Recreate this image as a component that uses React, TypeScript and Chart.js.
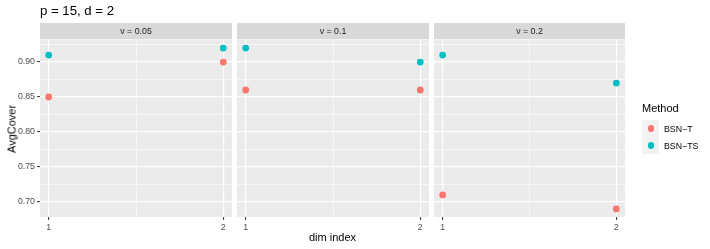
import React, { useEffect, useRef } from "react";
import { Chart, registerables } from "chart.js";

Chart.register(...registerables);

// ---- data ----
const dimIndex = [1, 2];
const nuLabels = ["ν = 0.05", "ν = 0.1", "ν = 0.2"];
const methods = ["BSN−T", "BSN−TS"];
const bsnT = [
  [0.85, 0.9],
  [0.86, 0.86],
  [0.71, 0.69],
];
const bsnTS = [
  [0.91, 0.92],
  [0.92, 0.9],
  [0.91, 0.87],
];
const yMajor = [0.7, 0.75, 0.8, 0.85, 0.9];
const yMinor = [0.725, 0.775, 0.825, 0.875, 0.925];
const xMajor = [1, 2];
const xMinor = [1.5];

// ---- styles ----
const colors = ["#F8766D", "#00BFC4"];
const FONT = "'Liberation Sans', Arial, Helvetica, sans-serif";
const W = 710;
const H = 249;
const panelLeft = [40, 237, 434];
const panelRight = [232, 429, 625];
const panelTop = 40;
const xAxisH = 32;

const allY = [...bsnT.flat(), ...bsnTS.flat()];
const yLo = Math.min(...allY);
const yHi = Math.max(...allY);
const yMin = yLo - 0.05 * (yHi - yLo);
const yMax = yHi + 0.05 * (yHi - yLo);
const xMin = dimIndex[0] - 0.05 * (dimIndex[1] - dimIndex[0]);
const xMax = dimIndex[1] + 0.05 * (dimIndex[1] - dimIndex[0]);

const stripPlugin = {
  id: "strip",
  beforeDraw(chart: any, _args: any, opts: any) {
    const { ctx, chartArea: a } = chart;
    ctx.save();
    ctx.fillStyle = "#EBEBEB";
    ctx.fillRect(a.left, a.top, a.right - a.left, a.bottom - a.top);
    ctx.fillStyle = "#D9D9D9";
    ctx.fillRect(a.left, 23, a.right - a.left, 16.3);
    ctx.fillStyle = "#1A1A1A";
    ctx.font = `8.8px ${FONT}`;
    ctx.textAlign = "center";
    ctx.textBaseline = "middle";
    ctx.fillText(opts.label, (a.left + a.right) / 2, 31.5);
    ctx.restore();
  },
};

function Panel({ idx }: { idx: number }) {
  const ref = useRef<HTMLCanvasElement>(null);
  useEffect(() => {
    const showY = idx === 0;
    const series = [bsnT, bsnTS];
    const xTicks = [...xMajor, ...xMinor].sort((a, b) => a - b);
    const yTicks = [...yMajor, ...yMinor].sort((a, b) => a - b);
    const chart = new Chart(ref.current as HTMLCanvasElement, {
      type: "scatter",
      data: {
        datasets: methods.map((m, s) => ({
          label: m,
          data: dimIndex.map((d, i) => ({ x: d, y: series[s][idx][i] })),
          backgroundColor: colors[s],
          borderWidth: 0,
          pointRadius: 3.4,
          pointHoverRadius: 3.4,
        })),
      },
      options: {
        animation: false,
        responsive: false,
        devicePixelRatio: 1,
        events: [],
        layout: {
          padding: {
            left: showY ? 0 : panelLeft[idx],
            right: W - panelRight[idx],
            top: panelTop,
            bottom: 0,
          },
        },
        plugins: {
          legend: { display: false },
          tooltip: { enabled: false },
          strip: { label: nuLabels[idx] },
        } as any,
        scales: {
          x: {
            type: "linear",
            min: xMin,
            max: xMax,
            afterBuildTicks: (s: any) => {
              s.ticks = xTicks.map((v) => ({ value: v }));
            },
            afterFit: (s: any) => {
              s.height = xAxisH;
            },
            border: { display: false },
            grid: {
              color: "#FFFFFF",
              lineWidth: (c: any) => (xMajor.includes(c.tick.value) ? 1.2 : 0.6),
              tickColor: (c: any) =>
                xMajor.includes(c.tick.value) ? "#333333" : "rgba(0,0,0,0)",
              tickWidth: 1,
              tickLength: 3,
              drawTicks: true,
            },
            ticks: {
              autoSkip: false,
              maxRotation: 0,
              padding: 2,
              color: "#4D4D4D",
              font: { family: FONT, size: 8.8 },
              callback: (v: any) => (xMajor.includes(v) ? String(v) : ""),
            },
          },
          y: {
            type: "linear",
            min: yMin,
            max: yMax,
            afterBuildTicks: (s: any) => {
              s.ticks = yTicks.map((v) => ({ value: v }));
            },
            afterFit: (s: any) => {
              s.width = showY ? panelLeft[0] : 0;
            },
            border: { display: false },
            grid: {
              color: "#FFFFFF",
              lineWidth: (c: any) => (yMajor.includes(c.tick.value) ? 1.2 : 0.6),
              tickColor: (c: any) =>
                yMajor.includes(c.tick.value) ? "#333333" : "rgba(0,0,0,0)",
              tickWidth: 1,
              tickLength: 3,
              drawTicks: showY,
            },
            ticks: {
              display: showY,
              autoSkip: false,
              padding: 2,
              color: "#4D4D4D",
              font: { family: FONT, size: 8.8 },
              callback: (v: any) => (yMajor.includes(v) ? Number(v).toFixed(2) : ""),
            },
          },
        },
      } as any,
      plugins: [stripPlugin],
    });
    return () => chart.destroy();
  }, [idx]);
  return (
    <canvas
      ref={ref}
      width={W}
      height={H}
      style={{ position: "absolute", left: 0, top: 0, width: W, height: H }}
    />
  );
}

export default function App() {
  useEffect(() => {
    document.body.style.margin = "0";
  }, []);
  const txt: React.CSSProperties = {
    position: "absolute",
    fontFamily: FONT,
    whiteSpace: "nowrap",
    lineHeight: 1,
  };
  return (
    <div style={{ position: "relative", width: W, height: H, background: "#FFFFFF", overflow: "hidden" }}>
      {nuLabels.map((_, i) => (
        <Panel key={i} idx={i} />
      ))}
      <div style={{ ...txt, left: 40, top: 4, fontSize: 13.2, color: "#000" }}>p = 15, d = 2</div>
      <div
        style={{
          ...txt,
          left: 12,
          top: 128.5,
          fontSize: 11,
          color: "#000",
          transform: "translate(-50%, -50%) rotate(-90deg)",
        }}
      >
        AvgCover
      </div>
      <div
        style={{
          ...txt,
          left: (panelLeft[0] + panelRight[2]) / 2,
          top: 237,
          fontSize: 11,
          color: "#000",
          transform: "translate(-50%, -50%)",
        }}
      >
        dim index
      </div>
      <div style={{ ...txt, left: 642, top: 103, fontSize: 11, color: "#000" }}>Method</div>
      {methods.map((m, s) => (
        <React.Fragment key={m}>
          <div
            style={{
              position: "absolute",
              left: 642,
              top: 120 + s * 17,
              width: 17,
              height: 17,
              background: "#F2F2F2",
            }}
          />
          <div
            style={{
              position: "absolute",
              left: 651 - 3.4,
              top: 128.5 + s * 17 - 3.4,
              width: 6.8,
              height: 6.8,
              borderRadius: "50%",
              background: colors[s],
            }}
          />
          <div
            style={{
              ...txt,
              left: 664,
              top: 128.5 + s * 17,
              fontSize: 8.8,
              color: "#000",
              transform: "translateY(-50%)",
            }}
          >
            {m}
          </div>
        </React.Fragment>
      ))}
    </div>
  );
}
